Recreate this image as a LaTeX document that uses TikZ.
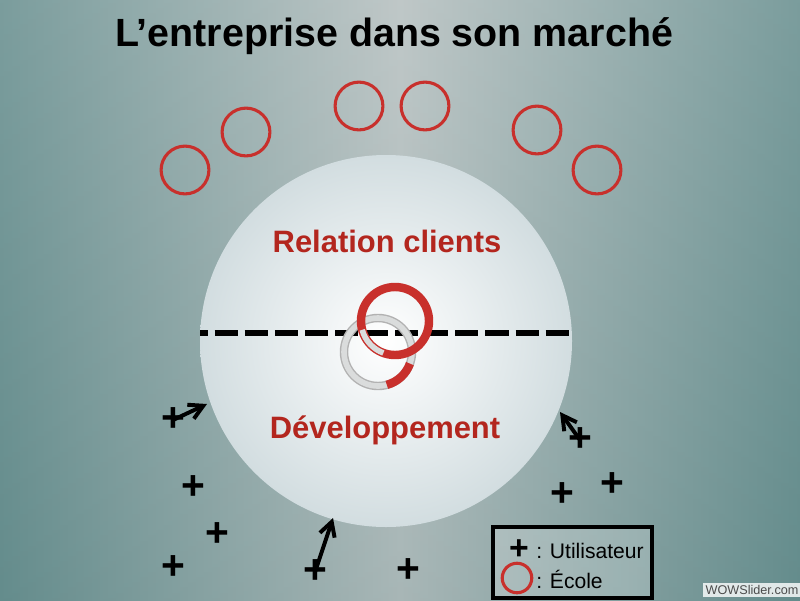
\documentclass[tikz,border=0pt]{standalone}
\usepackage{fontspec}
\setmainfont{Liberation Sans}
\usetikzlibrary{arrows.meta,positioning}
\definecolor{ecolered}{HTML}{C8302C}
\definecolor{textred}{HTML}{B3261E}
\definecolor{bgdark}{HTML}{648C8C}
\definecolor{bglight}{HTML}{B4BEBE}
\definecolor{spheredge}{HTML}{D2DDE0}
\definecolor{ringgray}{HTML}{DADCDC}
\begin{document}
\begin{tikzpicture}[x=0.025cm,y=-0.025cm,>={Straight Barb[length=10pt,width=11pt]},every node/.style={inner sep=0pt},ecole/.style={draw=ecolered,line width=2.2pt,circle,minimum size=34pt},user/.style={font=\fontsize{29}{29}\selectfont\bfseries},move/.style={->,line width=2.8pt},heading/.style={font=\fontsize{22}{22}\selectfont\bfseries,text=textred}]
\useasboundingbox (0,0) rectangle (800,600);
\shade[left color=bgdark,right color=bgdark,middle color=bglight] (0,0) rectangle (800,600);
\shade[top color=white,bottom color=bgdark,opacity=0.15] (0,0) rectangle (800,600);
\shade[inner color=white,outer color=spheredge] (386,341) circle (186);
\node[font=\fontsize{28}{28}\selectfont\bfseries] (titre) at (394,36) {L’entreprise dans son marché};
% ecoles autour du marche
\node[ecole] (ecoleA) at (185,170) {};
\node[ecole] (ecoleB) at (246,132) {};
\node[ecole] (ecoleC) at (359,106) {};
\node[ecole] (ecoleD) at (425,106) {};
\node[ecole] (ecoleE) at (537,130) {};
\node[ecole] (ecoleF) at (597,170) {};
\node[heading] (relation) at (387,241) {Relation clients};
\node[heading] (dev) at (385,430) {Développement};
\coordinate (gauche) at (200,333);
\coordinate (droite) at (572,333);
\draw[line width=4.3pt,dash pattern=on 16.4pt off 5pt,dash phase=11pt] (gauche)--(droite);
% anneaux
\coordinate (anneauR) at (395,321);
\coordinate (anneauG) at (378,352);
\draw[line width=6pt,gray!60] (anneauG) circle (34);
\draw[line width=4pt,ringgray] (anneauG) circle (34);
\draw[line width=6pt,ecolered] (anneauR) circle (34);
\draw[line width=4pt,ringgray] (anneauR) ++(110:34) arc[start angle=110,end angle=165,radius=34];
\draw[line width=6pt,ecolered] (anneauG) ++(20:34) arc[start angle=20,end angle=75,radius=34];
% utilisateurs
\node[user] (u1) at (173,420) {+};
\node[user] (u2) at (193,488) {+};
\node[user] (u3) at (217,535) {+};
\node[user] (u4) at (173,568) {+};
\node[user] (u5) at (315,572) {+};
\node[user] (u6) at (408,571) {+};
\node[user] (u7) at (562,495) {+};
\node[user] (u8) at (612,485) {+};
\node[user] (u9) at (580,440) {+};
\coordinate (t1) at (207,404);
\coordinate (t5) at (333,518);
\coordinate (t9) at (560,412);
\draw[move] (u1.center)--(t1);
\draw[move] (u5.center)--(t5);
\draw[move] (u9.center)--(t9);
% legende
\draw[line width=2.2pt,fill=white,fill opacity=0.2] (493,527) rectangle (652,598);
\node[user,font=\fontsize{24}{24}\selectfont\bfseries] (cleU) at (519,550) {+};
\node[anchor=west,font=\fontsize{15}{15}\selectfont] (utilisateur) at (536,551) {: Utilisateur};
\node[ecole,minimum size=21pt] (cleE) at (517,578) {};
\node[anchor=west,font=\fontsize{15}{15}\selectfont] (ecoleTxt) at (536,579) {: École};
\node[fill=white,fill opacity=0.8,text opacity=1,text=gray!60!black,font=\fontsize{9}{9}\selectfont,inner sep=1.5pt] (wow) at (752,590) {WOWSlider.com};
\end{tikzpicture}
\end{document}
